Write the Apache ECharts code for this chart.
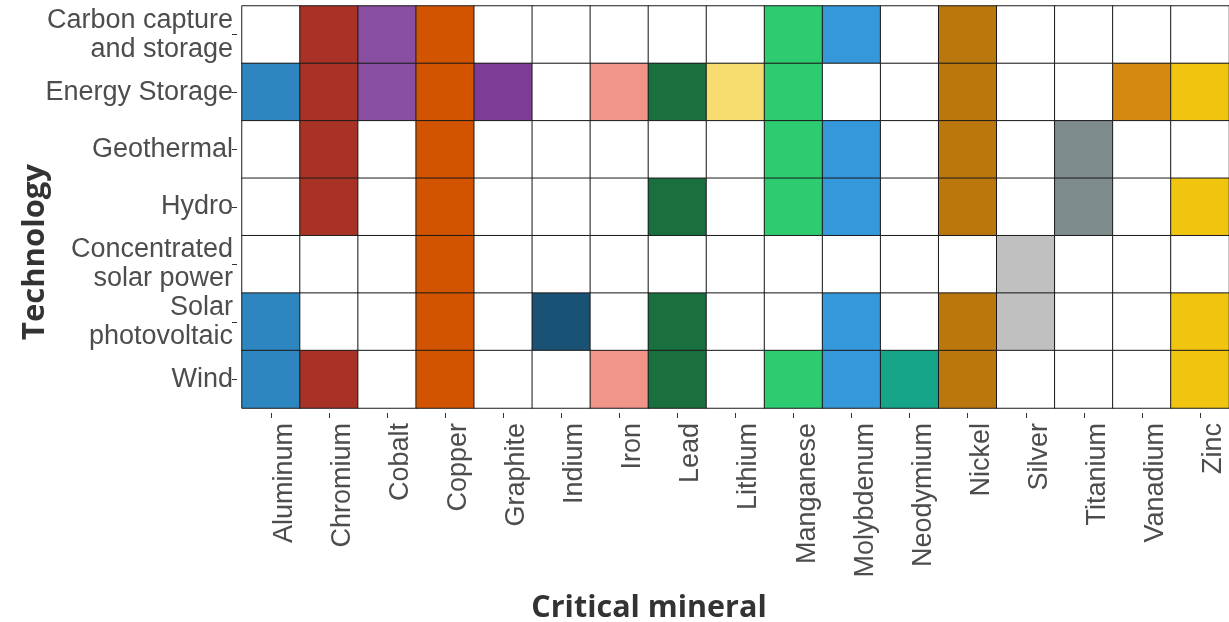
<!DOCTYPE html>
<html>
<head>
<meta charset="utf-8">
<script src="https://cdn.jsdelivr.net/npm/echarts@6/dist/echarts.min.js"></script>
<style>
html,body{margin:0;padding:0;background:#fff;}
#chart{width:1229px;height:622px;}
</style>
</head>
<body>
<div id="chart"></div>
<script>
const minerals = ['Aluminum','Chromium','Cobalt','Copper','Graphite','Indium','Iron','Lead','Lithium','Manganese','Molybdenum','Neodymium','Nickel','Silver','Titanium','Vanadium','Zinc'];
const technologies = ['Carbon capture\nand storage','Energy Storage','Geothermal','Hydro','Concentrated\nsolar power','Solar\nphotovoltaic','Wind'];
const mineralColors = ['#2E86C1','#A93226','#884EA0','#D35400','#7D3C98','#1A5276','#F1948A','#196F3D','#F7DC6F','#2ECC71','#3498DB','#17A589','#B9770E','#C0C0C0','#7F8C8D','#D68910','#F1C40F'];

// 1 = mineral used by technology, 0 = not used (order follows minerals)
const carbonCaptureUse   = [0,1,1,1,0,0,0,0,0,1,1,0,1,0,0,0,0];
const energyStorageUse   = [1,1,1,1,1,0,1,1,1,1,0,0,1,0,0,1,1];
const geothermalUse      = [0,1,0,1,0,0,0,0,0,1,1,0,1,0,1,0,0];
const hydroUse           = [0,1,0,1,0,0,0,1,0,1,1,0,1,0,1,0,1];
const concSolarUse       = [0,0,0,1,0,0,0,0,0,0,0,0,0,1,0,0,0];
const solarPvUse         = [1,0,0,1,0,1,0,1,0,0,1,0,1,1,0,0,1];
const windUse            = [1,1,0,1,0,0,1,1,0,1,1,1,1,0,0,0,1];
const usage = [carbonCaptureUse, energyStorageUse, geothermalUse, hydroUse, concSolarUse, solarPvUse, windUse];

const cells = [];
usage.forEach((row, yi) => {
  row.forEach((u, xi) => {
    cells.push({
      value: [xi, yi, u],
      itemStyle: { color: u ? mineralColors[xi] : '#ffffff' }
    });
  });
});

const labelFont = { fontFamily: '"Liberation Sans", Arial, sans-serif', fontSize: 27, color: '#4D4D4D' };

const chart = echarts.init(document.getElementById('chart'), null, { renderer: 'canvas' });
chart.setOption({
  animation: false,
  grid: { left: 242, top: 6, width: 990, height: 402, containLabel: false },
  xAxis: {
    type: 'category',
    data: minerals,
    offset: 5,
    axisLine: { show: false },
    axisTick: { show: true, alignWithLabel: true, length: 5, lineStyle: { color: '#333', width: 1 } },
    axisLabel: Object.assign({ rotate: 90, margin: 10, interval: 0, verticalAlign: 'top', lineHeight: 27 }, labelFont),
    splitLine: { show: false }
  },
  yAxis: {
    type: 'category',
    data: technologies,
    inverse: true,
    offset: 5,
    axisLine: { show: false },
    axisTick: { show: true, alignWithLabel: true, length: 5, lineStyle: { color: '#333', width: 1 } },
    axisLabel: Object.assign({ margin: 4, interval: 0, lineHeight: 29, align: 'right' }, labelFont),
    splitLine: { show: false }
  },
  graphic: [
    {
      type: 'text', x: 35, y: 252, rotation: Math.PI / 2,
      style: { text: 'Technology', fontFamily: '"Open Sans", sans-serif', fontWeight: 'bold', fontSize: 31, fill: '#333', textAlign: 'center', textVerticalAlign: 'middle' }
    },
    {
      type: 'text', x: 649, y: 608,
      style: { text: 'Critical mineral', fontFamily: '"Open Sans", sans-serif', fontWeight: 'bold', fontSize: 30.5, fill: '#333', textAlign: 'center', textVerticalAlign: 'middle' }
    }
  ],
  series: [{
    type: 'heatmap',
    data: cells,
    itemStyle: { borderColor: '#1a1a1a', borderWidth: 1 },
    emphasis: { disabled: true },
    label: { show: false }
  }]
});
</script>
</body>
</html>
